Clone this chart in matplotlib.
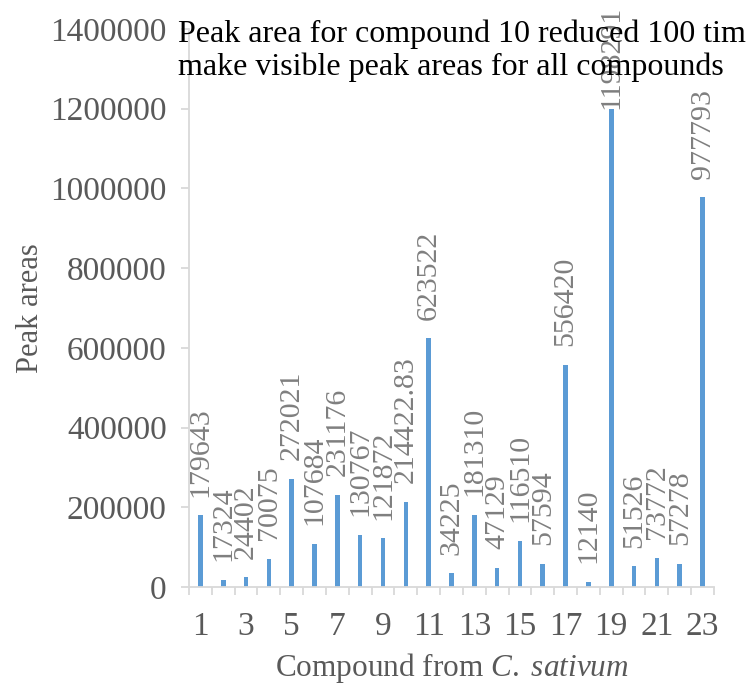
import matplotlib
matplotlib.use('Agg')
import matplotlib.pyplot as plt
import numpy as np

plt.rcParams['font.family'] = ['Liberation Serif', 'DejaVu Serif']
plt.rcParams['mathtext.fontset'] = 'custom'
plt.rcParams['mathtext.rm'] = 'Liberation Serif'
plt.rcParams['mathtext.it'] = 'Liberation Serif:italic'

compounds = list(range(1, 24))
peak_areas = [179643, 17324, 24402, 70075, 272021, 107684, 231176, 130767,
              121872, 214422.83, 623522, 34225, 181310, 47129, 116510, 57594,
              556420, 12140, 1198291, 51526, 73772, 57278, 977793]
y_ticks = [0, 200000, 400000, 600000, 800000, 1000000, 1200000, 1400000]

bar_color = '#5b9bd5'
axis_grey = '#d9d9d9'
text_grey = '#595959'
label_grey = '#7f7f7f'

fig = plt.figure(figsize=(7.46, 6.85), dpi=100)
ax = fig.add_axes([0.2534, 0.1431, 0.7036, 0.8146])

ax.bar(compounds, peak_areas, width=0.2, color=bar_color, zorder=2)

# rotated value labels above each bar; the tallest one is pushed down
# so it stays inside the chart area (as Excel does)
for x, v in zip(compounds, peak_areas):
    txt = f'{v:.2f}'.rstrip('0').rstrip('.')
    off = 0 if v > 1100000 else 13.5
    ax.annotate(txt, (x, v), xytext=(0, off), textcoords='offset points',
                rotation=90, ha='center', va='bottom', fontsize=21.5,
                color=label_grey, annotation_clip=False, zorder=3)

ax.set_xlim(0.5, 23.5)
ax.set_ylim(0, 1400000)

ax.set_xticks(compounds)
ax.set_xticklabels([str(c) if c % 2 == 1 else '' for c in compounds])
ax.set_xticks(np.arange(0.5, 24, 1), minor=True)
ax.tick_params(axis='x', which='major', length=0, pad=18, labelsize=24,
               labelcolor=text_grey)
ax.tick_params(axis='x', which='minor', length=6, width=1.3, color=axis_grey,
               direction='out')

ax.set_yticks(y_ticks)
ax.set_yticklabels([str(t) for t in y_ticks])
ax.tick_params(axis='y', length=6, width=1.3, color=axis_grey, pad=10,
               labelsize=24, labelcolor=text_grey)

for side in ['top', 'right']:
    ax.spines[side].set_visible(False)
for side in ['left', 'bottom']:
    ax.spines[side].set_color(axis_grey)
    ax.spines[side].set_linewidth(1.3)

ax.set_ylabel('Peak areas', fontsize=22, color=text_grey, labelpad=4)
ax.set_xlabel('Compound from $C.\\ sativum$', fontsize=22.5,
              color=text_grey, labelpad=6)

fig.text(0.239, 0.972,
         'Peak area for compound 10 reduced 100 times to\n'
         'make visible peak areas for all compounds',
         ha='left', va='top', fontsize=23, color='black', zorder=10,
         linespacing=1.15)

fig.savefig('out.png', dpi=100)
